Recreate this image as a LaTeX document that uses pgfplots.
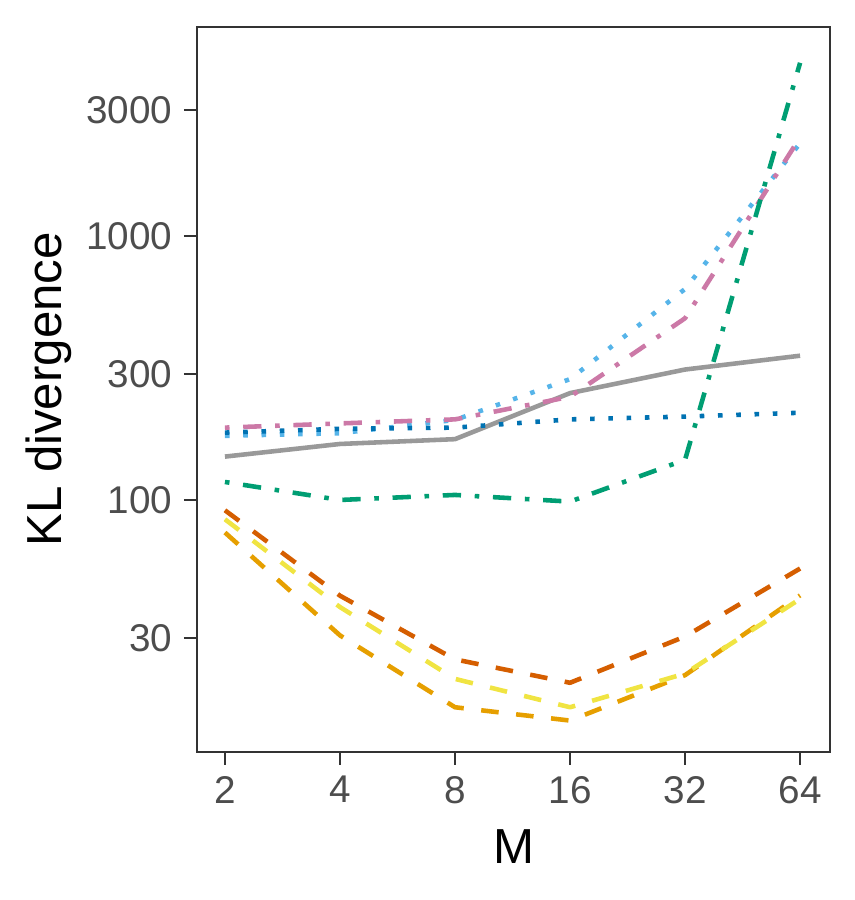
\documentclass[border=0pt]{standalone}
\usepackage{pgfplots}
\pgfplotsset{compat=1.18}
\usepackage{fontspec}
\setmainfont{Liberation Sans}
\definecolor{cgrey}{HTML}{999999}
\definecolor{corange}{HTML}{E69F00}
\definecolor{csky}{HTML}{56B4E9}
\definecolor{cgreen}{HTML}{009E73}
\definecolor{cyellow}{HTML}{F0E442}
\definecolor{cblue}{HTML}{0072B2}
\definecolor{cverm}{HTML}{D55E00}
\definecolor{cpink}{HTML}{CC79A7}
\definecolor{tickgrey}{HTML}{4D4D4D}
\definecolor{frame}{HTML}{333333}
\tikzset{
  ggdot/.style={dash pattern=on 1.3pt off 3.9pt},
  ggdash/.style={dash pattern=on 5.0pt off 5.0pt},
  ggdotdash/.style={dash pattern=on 1.3pt off 3.9pt on 5.2pt off 3.9pt},
}
\begin{document}
\begin{tikzpicture}
\useasboundingbox (-1.97cm,-1.48cm) rectangle (6.58cm,7.52cm);
\begin{axis}[
  at={(0,0)}, anchor=south west,
  width=6.33cm, height=7.25cm, scale only axis,
  xmin=0.757, xmax=6.26,
  ymode=log, ymin=11.1, ymax=6190,
  xtick={1,2,3,4,5,6}, xticklabels={2,4,8,16,32,64},
  ytick={30,100,300,1000,3000}, yticklabels={30,100,300,1000,3000},
  minor tick num=0, minor ytick={},
  tick align=outside, major tick length=3.7pt,
  tick style={draw=frame, line width=0.8pt},
  axis line style={draw=frame, line width=0.75pt},
  xtick pos=bottom, ytick pos=left,
  /pgf/number format/assume math mode=true,
  ticklabel style={font=\fontsize{11}{13}\selectfont, text=tickgrey},
  yticklabel style={anchor=east, inner sep=0pt, xshift=-3.1pt},
  xticklabel style={anchor=north, inner sep=0pt, yshift=-3pt},
  xlabel={M}, ylabel={KL divergence},
  label style={font=\fontsize{14}{16}\selectfont},
  xlabel style={at={(axis description cs:0.5,-0.1531)}, anchor=base, inner sep=0pt},
  ylabel style={at={(axis description cs:-0.2133,0.5)}, anchor=base, inner sep=0pt, rotate=0},
  every axis plot/.append style={line width=1.3pt, line cap=butt, line join=round},
]
% grey solid
\addplot[cgrey, solid] coordinates {(1,146) (2,163) (3,170) (4,254) (5,312) (6,352)};
% orange dashed
\addplot[corange, ggdash] coordinates {(1,75.3) (2,30.7) (3,16.4) (4,14.6) (5,21.7) (6,43.5)};
% yellow dashed
\addplot[cyellow, ggdash] coordinates {(1,84.5) (2,39.3) (3,21.0) (4,16.4) (5,22.0) (6,42.2)};
% vermillion dashed
\addplot[cverm, ggdash] coordinates {(1,91.4) (2,43.4) (3,24.9) (4,20.3) (5,30.4) (6,55)};
% sky blue dotted
\addplot[csky, ggdot] coordinates {(1,175) (2,179) (3,201) (4,287) (5,630) (6,2245)};
% dark blue dotted
\addplot[cblue, ggdot] coordinates {(1,180) (2,186) (3,188) (4,202) (5,207) (6,214)};
% pink dotdash
\addplot[cpink, ggdotdash] coordinates {(1,188) (2,195) (3,202) (4,246) (5,488) (6,2365)};
% green dotdash
\addplot[cgreen, ggdotdash] coordinates {(1,117) (2,100) (3,104.5) (4,98.6) (5,142) (6,4530)};
\end{axis}
\end{tikzpicture}
\end{document}
